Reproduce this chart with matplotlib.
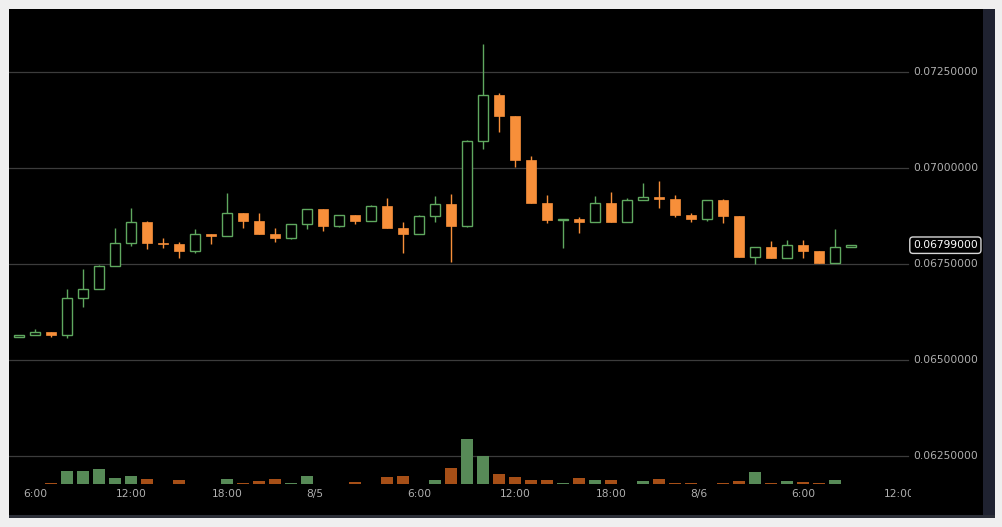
import matplotlib
matplotlib.use("Agg")
import matplotlib.pyplot as plt
import matplotlib.dates as mdates
from matplotlib.patches import Rectangle
from matplotlib.transforms import Bbox, TransformedBbox
from datetime import datetime, timedelta

# hourly candles, 8/4 05:00 .. 8/6 09:00
first_candle = datetime(2015, 8, 4, 5, 0)
times = [first_candle + timedelta(hours=i) for i in range(53)]

opens = [0.065599, 0.065651, 0.065737, 0.065659, 0.066607, 0.066841, 0.067448, 0.068039, 0.068586, 0.068055,
         0.068013, 0.067846, 0.068273, 0.068237, 0.068820, 0.068620, 0.068289, 0.068177, 0.068542, 0.068924,
         0.068497, 0.068768, 0.068628, 0.069003, 0.068445, 0.068289, 0.068750, 0.069063, 0.068490, 0.070695,
         0.071901, 0.071362, 0.070208, 0.069096, 0.068646, 0.068672, 0.068602, 0.069089, 0.068607, 0.069167,
         0.069237, 0.069206, 0.068789, 0.068680, 0.069180, 0.068758, 0.067690, 0.067935, 0.067664, 0.067987,
         0.067826, 0.067539, 0.067935]
highs = [0.065651, 0.065807, 0.065742, 0.066841, 0.067362, 0.067474, 0.068430, 0.068951, 0.068620, 0.068169,
         0.068065, 0.068404, 0.068281, 0.069357, 0.068820, 0.068820, 0.068430, 0.068542, 0.068924, 0.068932,
         0.068768, 0.068776, 0.069036, 0.069211, 0.068602, 0.068776, 0.069271, 0.069323, 0.070729, 0.073221,
         0.071945, 0.071362, 0.070320, 0.069297, 0.068680, 0.068732, 0.069271, 0.069367, 0.069211, 0.069617,
         0.069661, 0.069297, 0.068820, 0.069180, 0.069185, 0.068758, 0.067935, 0.068099, 0.068125, 0.068125,
         0.067838, 0.068404, 0.067995]
lows = [0.065599, 0.065640, 0.065599, 0.065565, 0.066388, 0.066841, 0.067440, 0.067977, 0.067883, 0.067925,
        0.067648, 0.067779, 0.068013, 0.068230, 0.068430, 0.068273, 0.068081, 0.068159, 0.068412, 0.068367,
        0.068471, 0.068534, 0.068628, 0.068445, 0.067779, 0.068273, 0.068602, 0.067544, 0.068471, 0.070487,
        0.070945, 0.070018, 0.069096, 0.068575, 0.067909, 0.068300, 0.068602, 0.068607, 0.068602, 0.069167,
        0.068966, 0.068732, 0.068594, 0.068620, 0.068575, 0.067690, 0.067492, 0.067664, 0.067648, 0.067648,
        0.067534, 0.067539, 0.067935]
closes = [0.065651, 0.065737, 0.065659, 0.066607, 0.066841, 0.067448, 0.068039, 0.068586, 0.068055, 0.068013,
          0.067846, 0.068273, 0.068237, 0.068820, 0.068620, 0.068289, 0.068177, 0.068542, 0.068924, 0.068497,
          0.068768, 0.068628, 0.069003, 0.068445, 0.068289, 0.068750, 0.069063, 0.068490, 0.070695, 0.071901,
          0.071362, 0.070208, 0.069096, 0.068646, 0.068672, 0.068602, 0.069089, 0.068607, 0.069167, 0.069237,
          0.069206, 0.068789, 0.068680, 0.069180, 0.068758, 0.067690, 0.067935, 0.067664, 0.067987, 0.067826,
          0.067539, 0.067935, 0.067990]
volumes = [0, 0, 10, 127, 127, 147, 63, 77, 47, 0,
           37, 0, 0, 47, 10, 27, 47, 10, 77, 0,
           0, 17, 0, 70, 77, 0, 37, 157, 450, 280,
           97, 67, 43, 43, 10, 57, 37, 37, 0, 27,
           47, 10, 7, 0, 7, 27, 120, 10, 27, 20,
           10, 37, 0]

price_levels = [0.0625, 0.065, 0.0675, 0.07, 0.0725]
last_price = 0.06799

tick_times = [datetime(2015, 8, 4, 6), datetime(2015, 8, 4, 12), datetime(2015, 8, 4, 18),
              datetime(2015, 8, 4, 23, 30), datetime(2015, 8, 5, 6), datetime(2015, 8, 5, 12),
              datetime(2015, 8, 5, 18), datetime(2015, 8, 5, 23, 30), datetime(2015, 8, 6, 6),
              datetime(2015, 8, 6, 12)]
tick_labels = ["6:00", "12:00", "18:00", "8/5", "6:00", "12:00", "18:00", "8/6", "6:00", "12:00"]

UP = "#5fa85f"
DOWN = "#f78f3a"
VOL_UP = "#578a57"
VOL_DOWN = "#a64f17"
GRID = "#3c3c3c"
TXT = "#b0b0b0"

W, H = 1003, 527
fig = plt.figure(figsize=(W / 100, H / 100), dpi=100)
fig.patch.set_facecolor("#efefef")

# frame pieces around the black panel
fig.patches.append(Rectangle((983 / W, 9 / H), 12 / W, 509 / H, transform=fig.transFigure,
                             facecolor="#1f2230", edgecolor="none"))
fig.patches.append(Rectangle((9 / W, 9 / H), 986 / W, 3 / H, transform=fig.transFigure,
                             facecolor="#2c2f38", edgecolor="none"))

x_left = mdates.date2num(datetime(2015, 8, 4, 4, 22, 30))
x_right = mdates.date2num(datetime(2015, 8, 6, 17, 15))

ax = fig.add_axes([9 / W, 12 / H, 974 / W, 506 / H])
ax.set_facecolor("black")
ax.set_xlim(x_left, x_right)
ax.set_ylim(0.060964, 0.074141)
for s in ax.spines.values():
    s.set_visible(False)
ax.set_xticks([])
ax.set_yticks([])

grid_end = (908 - 9) / 974
label_x = (913 - 9) / 974
for lvl in price_levels:
    ax.axhline(lvl, xmin=0, xmax=grid_end, color=GRID, lw=0.9, zorder=1)
    ax.text(label_x, lvl, "%.8f" % lvl, transform=ax.get_yaxis_transform(),
            va="center", ha="left", color=TXT, fontsize=7.7)

ax.text(label_x, last_price, "%.8f" % last_price, transform=ax.get_yaxis_transform(),
        va="center", ha="left", color="white", fontsize=7.7,
        bbox=dict(boxstyle="round,pad=0.3,rounding_size=0.3", fc="black", ec="#d8d8d8", lw=1))

clip = TransformedBbox(Bbox([[0, 0], [(911 - 9) / 974, 1]]), ax.transAxes)
for t, lab in zip(tick_times, tick_labels):
    txt = ax.text(mdates.date2num(t), (515 - 494) / 506, lab, transform=ax.get_xaxis_transform(),
                  ha="center", va="center", color=TXT, fontsize=7.7, clip_on=True)
    txt.set_clip_box(clip)

# candles
xs = mdates.date2num(times)
body_w = 0.66 / 24
min_h = 0.000012
for x, o, h, l, c in zip(xs, opens, highs, lows, closes):
    up = c >= o
    col = UP if up else DOWN
    ax.vlines(x, l, h, color=col, lw=1, zorder=2)
    bottom = min(o, c)
    height = max(abs(c - o), min_h)
    if up:
        ax.bar(x, height, width=body_w, bottom=bottom, facecolor="black", edgecolor=col,
               linewidth=1, zorder=3)
    else:
        ax.bar(x, height, width=body_w, bottom=bottom, facecolor=col, edgecolor=col,
               linewidth=0.5, zorder=3)

# volume
axv = fig.add_axes([9 / W, (H - 484) / H, 974 / W, 475 / H])
axv.patch.set_alpha(0)
axv.set_xlim(x_left, x_right)
axv.set_ylim(0, 4750)
axv.axis("off")
vol_cols = [VOL_UP if c >= o else VOL_DOWN for o, c in zip(opens, closes)]
axv.bar(xs, volumes, width=0.81 / 24, color=vol_cols, linewidth=0)

fig.savefig("out.png", dpi=100, facecolor=fig.get_facecolor())
